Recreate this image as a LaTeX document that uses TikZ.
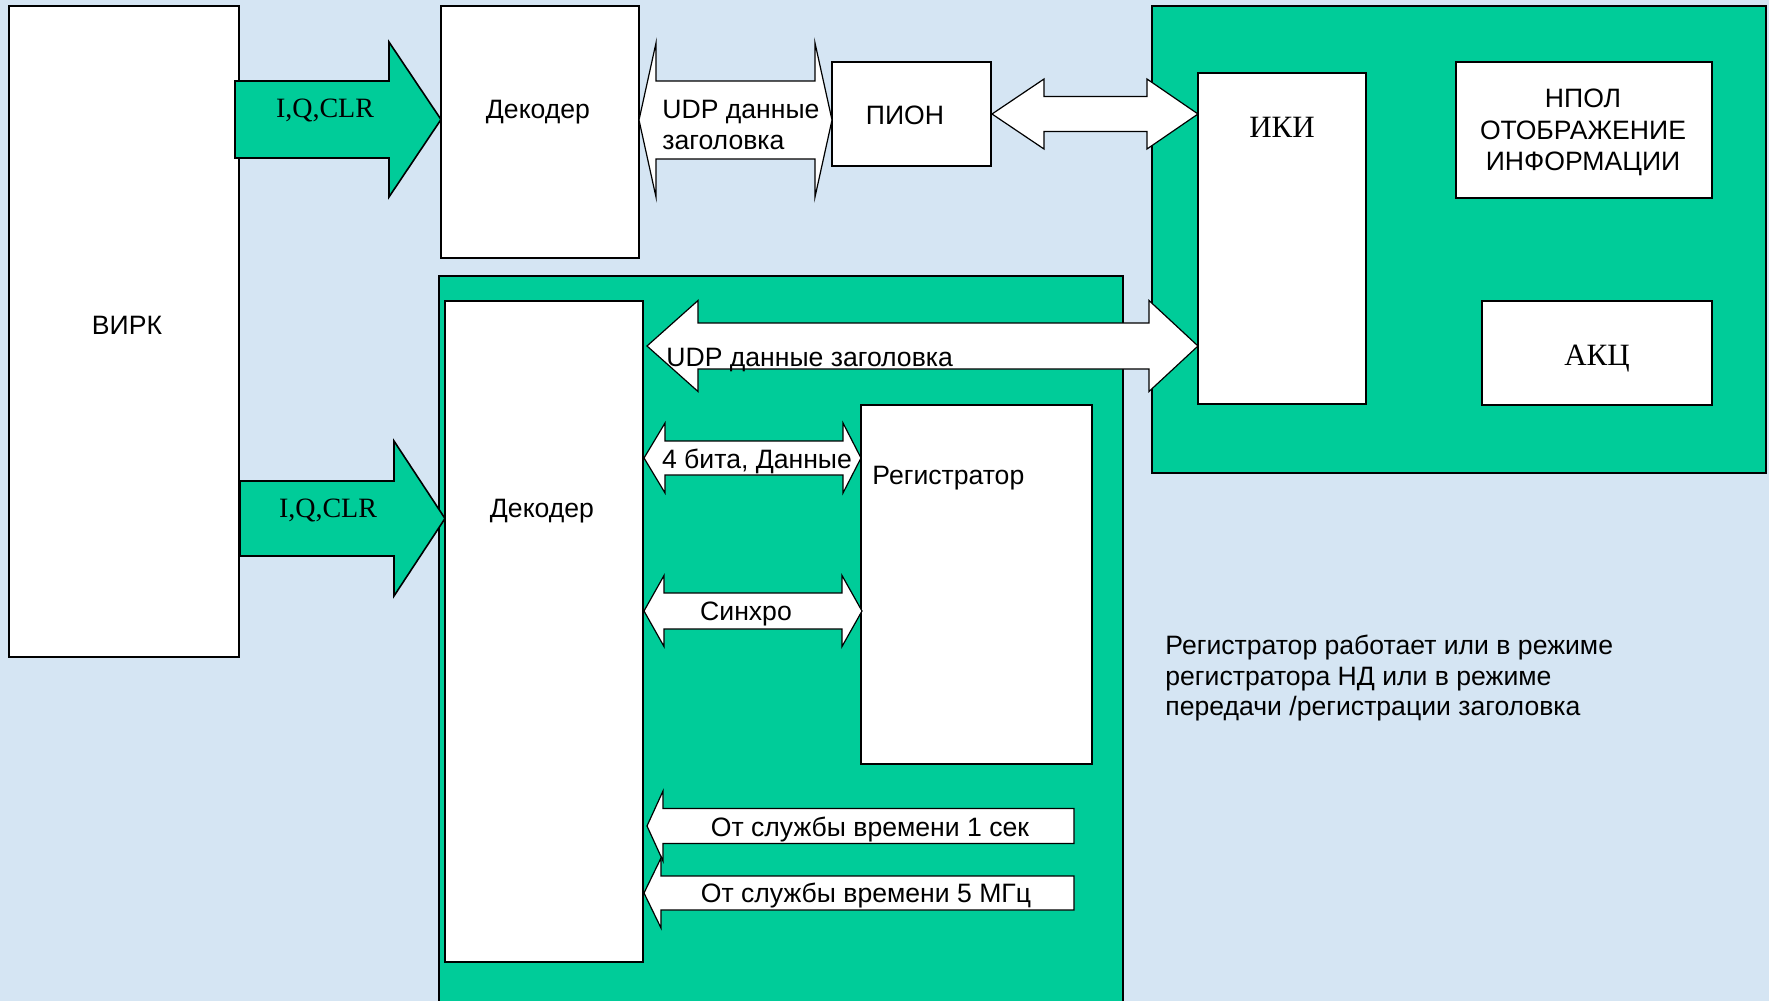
\documentclass[tikz,border=0pt]{standalone}
\usepackage{fontspec}
\setmainfont{Liberation Sans}
\newfontfamily\timesf{Liberation Serif}
\definecolor{bgblue}{RGB}{213,229,243}
\definecolor{pptgreen}{RGB}{0,204,153}
\tikzset{
  whitebox/.style={draw=black, fill=white, line width=0.6pt},
  greenbox/.style={draw=black, fill=pptgreen, line width=0.9pt},
  blockarrow/.style={draw=black, fill=white, line width=0.6pt, line join=miter},
  greenarrow/.style={draw=black, fill=pptgreen, line width=0.8pt, line join=miter},
  lbl/.style={font=\fontsize{13.3}{15}\selectfont, inner sep=0pt, anchor=base},
  lbll/.style={lbl, anchor=base west},
  serif/.style={font=\timesf\fontsize{14}{16}\selectfont, inner sep=0pt, anchor=base},
  serifbig/.style={font=\timesf\fontsize{15.5}{17}\selectfont, inner sep=0pt, anchor=base},
}
% style, name, x1, y1, x2, y2
\newcommand\mkbox[6]{%
  \pgfmathsetmacro\bw{(#5-#3)*0.5}\pgfmathsetmacro\bh{(#6-#4)*0.5}%
  \node[#1, minimum width=\bw pt, minimum height=\bh pt, inner sep=0pt, outer sep=0pt] (#2) at ({(#3+#5)/2},{(#4+#6)/2}) {};}
% left tip, left base, right base, right tip, yc, body half, head half
\newcommand\dblarrow[7]{%
  \draw[blockarrow] (#1,#5) -- (#2,#5-#7) -- (#2,#5-#6) -- (#3,#5-#6) -- (#3,#5-#7) -- (#4,#5)
    -- (#3,#5+#7) -- (#3,#5+#6) -- (#2,#5+#6) -- (#2,#5+#7) -- cycle;}
% tip, base, right end, yc, body half, head half
\newcommand\leftarrowblk[6]{%
  \draw[blockarrow] (#1,#4) -- (#2,#4-#6) -- (#2,#4-#5) -- (#3,#4-#5) -- (#3,#4+#5)
    -- (#2,#4+#5) -- (#2,#4+#6) -- cycle;}
% tail, base, tip, yc, body half, head half
\newcommand\rightarrowblk[6]{%
  \draw[greenarrow] (#1,#4-#5) -- (#2,#4-#5) -- (#2,#4-#6) -- (#3,#4) -- (#2,#4+#6)
    -- (#2,#4+#5) -- (#1,#4+#5) -- cycle;}
\begin{document}
\begin{tikzpicture}[x=0.5pt,y=-0.5pt]
\clip (0,0) rectangle (1769,1001);
\fill[bgblue] (0,0) rectangle (1769,1001);

% left column and top row
\mkbox{whitebox}{virk}{9}{6}{239}{657}
\mkbox{whitebox}{dec1}{441}{6}{639}{258}
\mkbox{whitebox}{pion}{832}{62}{991}{166}

% right green block
\mkbox{greenbox}{rgreen}{1152}{6}{1766}{473}
\mkbox{whitebox}{iki}{1198}{73}{1366}{404}
\mkbox{whitebox}{npol}{1456}{62}{1712}{198}
\mkbox{whitebox}{akc}{1482}{301}{1712}{405}

% bottom green block
\mkbox{greenbox}{bgreen}{439}{276}{1123}{1030}
\mkbox{whitebox}{dec2}{445}{301}{643}{962}
\mkbox{whitebox}{reg}{861}{405}{1092}{764}

% block arrows
\rightarrowblk{235}{389}{441}{119.5}{38.5}{77.5}
\rightarrowblk{240}{394}{445}{518.5}{37.5}{77.5}
\dblarrow{639}{656}{815}{832}{120}{39}{77}
\dblarrow{992}{1044}{1147}{1198}{114}{17.5}{35}
\dblarrow{647}{698}{1149}{1198}{346}{23}{45.5}
\dblarrow{644}{665}{843}{861}{458}{17}{35}
\dblarrow{644}{664}{842}{862}{611}{18}{35.5}
\leftarrowblk{647}{663}{1074}{826}{17.5}{35}
\leftarrowblk{644}{661}{1074}{893}{17}{35}

% labels
\node[lbl] (tvirk) at (127,334) {ВИРК};
\node[serif] (tiq1) at (325,117) {I,Q,CLR};
\node[serif] (tiq2) at (328,517) {I,Q,CLR};
\node[lbl] (tdec1) at (538,118) {Декодер};
\node[lbl] (tdec2) at (542,517) {Декодер};
\node[lbll] (tudp1a) at (662,119) {UDP данные};
\node[lbll] (tudp1b) at (662,149) {заголовка};
\node[lbl] (tpion) at (905,124) {ПИОН};
\node[lbll] (tudp2) at (666,366) {UDP данные заголовка};
\node[lbl] (tbits) at (757,468) {4 бита, Данные};
\node[lbll] (treg) at (872,484) {Регистратор};
\node[lbl] (tsync) at (746,620) {Синхро};
\node[lbl] (tsec) at (870,836) {От службы времени 1 сек};
\node[lbl] (tmhz) at (866,902) {От службы времени 5 МГц};
\node[serifbig] (tiki) at (1282,137) {ИКИ};
\node[lbl] (tnpol1) at (1583,107) {НПОЛ};
\node[lbl] (tnpol2) at (1583,139) {ОТОБРАЖЕНИЕ};
\node[lbl] (tnpol3) at (1583,170) {ИНФОРМАЦИИ};
\node[serifbig] (takc) at (1597,365) {АКЦ};
\node[lbll] (tnote1) at (1165,654) {Регистратор работает или в режиме};
\node[lbll] (tnote2) at (1165,685) {регистратора НД или в режиме};
\node[lbll] (tnote3) at (1165,715) {передачи /регистрации заголовка};
\end{tikzpicture}
\end{document}
